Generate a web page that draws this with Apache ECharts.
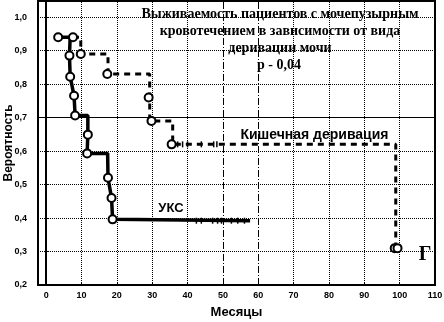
<!DOCTYPE html>
<html>
<head>
<meta charset="utf-8">
<script src="https://cdn.jsdelivr.net/npm/echarts@6/dist/echarts.min.js"></script>
<style>
  html, body { margin: 0; padding: 0; background: #fff; }
  #survival { width: 444px; height: 322px; }
</style>
</head>
<body>
<div id="survival"></div>
<script>
// tick labels
const xTicks = [0, 10, 20, 30, 40, 50, 60, 70, 80, 90, 100, 110];
const yTicks = [0.2, 0.3, 0.4, 0.5, 0.6, 0.7, 0.8, 0.9, 1.0];

// УКС curve (step path) and event markers
const uksPath = [[3.4, 0.94], [6.8, 0.94], [6.6, 0.885], [6.8, 0.822], [7.9, 0.765], [8.2, 0.706],
  [11.8, 0.706], [11.8, 0.649], [11.6, 0.593], [17.4, 0.593], [17.5, 0.52], [18.5, 0.46],
  [18.8, 0.396], [57.7, 0.392]];
const uksEvents = [[3.4, 0.94], [6.6, 0.885], [6.8, 0.822], [7.9, 0.765], [8.2, 0.706],
  [11.8, 0.649], [11.6, 0.593], [17.5, 0.52], [18.5, 0.46], [18.8, 0.396]];
const uksCensored = [[42.5, 0.392], [43.9, 0.392], [47.1, 0.392], [48.5, 0.392], [49.6, 0.392],
  [52.4, 0.392], [54.2, 0.392], [56.1, 0.392]];

// Кишечная деривация curve
const intPath = [[7.6, 0.94], [9.8, 0.94], [9.8, 0.89], [17.5, 0.89], [17.5, 0.83], [29.3, 0.83],
  [29.3, 0.69], [35.8, 0.69], [35.8, 0.62], [98.9, 0.62], [98.9, 0.31]];
const intEvents = [[7.6, 0.94], [9.8, 0.89], [17.3, 0.83], [29.0, 0.76], [29.8, 0.69],
  [35.5, 0.62], [98.6, 0.31], [99.4, 0.31]];
const intCensored = [[37.2, 0.62], [38.6, 0.62], [40.0, 0.62], [43.9, 0.62], [47.4, 0.62], [48.3, 0.62]];

var chartDom = document.getElementById('survival');
var myChart = echarts.init(chartDom);

const comma = v => v.toFixed(1).replace('.', ',');
const fmtX = v => String(Math.round(v));

// grid lines drawn as mark lines so they sit on the labelled ticks
const vLines = xTicks.map(v => {
  let type = 'dotted';
  if (v === 0 || v === 50 || v === 60) type = [7, 2, 1, 2];
  return { xAxis: v, lineStyle: { type: type, color: '#000', width: 1 } };
});
vLines.push({ yAxis: 0.7, lineStyle: { type: 'solid', color: '#000', width: 1 } });

let option = {
  animation: false,
  backgroundColor: '#fff',
  grid: {
    left: 38, right: 9, top: 1, bottom: 37,
    outerBoundsMode: 'none',
    containLabel: false,
    show: true, borderColor: '#000', borderWidth: 2
  },
  xAxis: {
    type: 'value',
    min: -2.3,
    max: 110,
    name: 'Месяцы',
    nameLocation: 'middle',
    nameGap: 21,
    nameMoveOverlap: false,
    nameTextStyle: { fontFamily: 'Liberation Sans', fontWeight: 'bold', fontSize: 13, color: '#000' },
    axisLine: { lineStyle: { color: '#000', width: 2 } },
    axisTick: { show: true, inside: true, length: 3, customValues: xTicks, lineStyle: { color: '#000' } },
    axisLabel: {
      customValues: xTicks, formatter: fmtX, margin: 6,
      fontFamily: 'Liberation Sans', fontWeight: 'bold', fontSize: 9, color: '#000'
    },
    splitLine: { show: false }
  },
  yAxis: {
    type: 'value',
    min: 0.2,
    max: 1.048,
    interval: 0.1,
    name: 'Вероятность',
    nameLocation: 'middle',
    nameGap: 23,
    nameMoveOverlap: false,
    nameTextStyle: { fontFamily: 'Liberation Sans', fontWeight: 'bold', fontSize: 12, color: '#000' },
    axisLine: { lineStyle: { color: '#000', width: 2 } },
    axisTick: { show: true, inside: true, length: 3, customValues: yTicks, lineStyle: { color: '#000' } },
    axisLabel: {
      customValues: yTicks, formatter: comma, margin: 11,
      fontFamily: 'Liberation Sans', fontWeight: 'bold', fontSize: 9, color: '#000'
    },
    splitLine: { show: true, lineStyle: { type: 'dotted', color: '#000', width: 1 } }
  },
  series: [
    {
      type: 'line', data: [], silent: true,
      markLine: { symbol: 'none', silent: true, label: { show: false }, data: vLines }
    },
    {
      name: 'УКС', type: 'line', data: uksPath, showSymbol: false,
      lineStyle: { color: '#000', width: 3.5 }, z: 3
    },
    {
      name: 'Кишечная деривация', type: 'line', data: intPath, showSymbol: false,
      lineStyle: { color: '#000', width: 3, type: [6, 5] }, z: 3
    },
    {
      type: 'scatter', data: uksCensored.concat(intCensored), symbol: 'rect',
      symbolSize: [1.5, 6], itemStyle: { color: '#000', opacity: 1 }, z: 4
    },
    {
      type: 'scatter', data: uksEvents.concat(intEvents), symbol: 'circle', symbolSize: 8,
      itemStyle: { color: '#fff', borderColor: '#000', borderWidth: 2, opacity: 1 }, z: 5
    }
  ]
};
myChart.setOption(option);

// free text labels anchored to data coordinates
function place(x, y) { return myChart.convertToPixel('grid', [x, y]); }
const pInt = place(75.9, 0.646);
const pUks = place(35.3, 0.43);
const pG = place(107.2, 0.29);
myChart.setOption({
  graphic: [
    {
      type: 'text', x: 280, y: 6,
      style: {
        text: 'Выживаемость пациентов с мочепузырным\nкровотечением в зависимости от вида\nдеривации мочи',
        align: 'center', verticalAlign: 'top', lineHeight: 17,
        font: 'bold 14px "Liberation Serif"', fill: '#000'
      }
    },
    { type: 'text', x: 279, y: 65, style: { text: 'р - 0,04', align: 'center', verticalAlign: 'middle', font: 'bold 14px "Liberation Serif"', fill: '#000' } },
    { type: 'text', x: pInt[0], y: pInt[1], style: { text: 'Кишечная деривация', align: 'center', verticalAlign: 'middle', font: 'bold 14px "Liberation Sans"', fill: '#000' } },
    { type: 'text', x: pUks[0], y: pUks[1], style: { text: 'УКС', align: 'center', verticalAlign: 'middle', font: 'bold 13px "Liberation Sans"', fill: '#000' } },
    { type: 'text', x: pG[0], y: pG[1], style: { text: 'Г', align: 'center', verticalAlign: 'middle', font: 'bold 20px "Liberation Serif"', fill: '#000' } }
  ]
});
</script>
</body>
</html>
